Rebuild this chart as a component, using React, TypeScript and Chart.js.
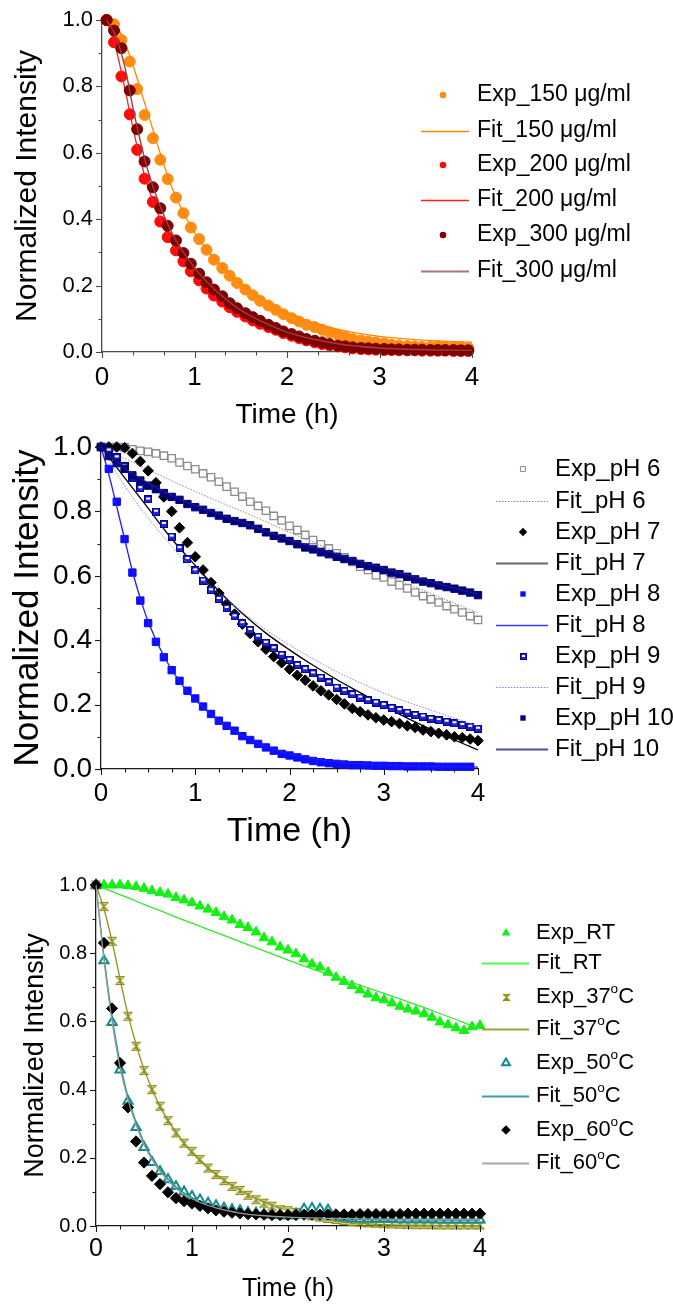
import React, { useEffect, useRef } from 'react';
import { Chart, registerables } from 'chart.js';

Chart.register(...registerables);

const FONT = '"Liberation Sans", Arial, Helvetica, sans-serif';
const W = 673;

// ---------------- Panel 1: concentration ----------------
const time1 = [0.05, 0.13, 0.21, 0.30, 0.38, 0.46, 0.55, 0.63, 0.71, 0.80, 0.88, 0.96, 1.05, 1.13, 1.21, 1.30, 1.38, 1.46, 1.55, 1.63, 1.71, 1.80, 1.88, 1.96, 2.05, 2.13, 2.21, 2.30, 2.38, 2.46, 2.55, 2.63, 2.71, 2.80, 2.88, 2.96, 3.05, 3.13, 3.21, 3.30, 3.38, 3.46, 3.55, 3.63, 3.71, 3.80, 3.88, 3.96];
const exp150 = [1.0, 0.987, 0.94, 0.875, 0.792, 0.714, 0.644, 0.579, 0.521, 0.465, 0.418, 0.375, 0.340, 0.308, 0.278, 0.253, 0.230, 0.208, 0.188, 0.171, 0.154, 0.140, 0.127, 0.114, 0.102, 0.092, 0.082, 0.075, 0.067, 0.059, 0.052, 0.045, 0.039, 0.035, 0.032, 0.029, 0.026, 0.022, 0.020, 0.018, 0.017, 0.015, 0.016, 0.017, 0.016, 0.015, 0.014, 0.012];
const exp200 = [1.0, 0.933, 0.83, 0.716, 0.609, 0.522, 0.452, 0.393, 0.346, 0.306, 0.273, 0.243, 0.216, 0.191, 0.170, 0.152, 0.135, 0.121, 0.107, 0.095, 0.085, 0.075, 0.067, 0.057, 0.049, 0.042, 0.035, 0.029, 0.024, 0.020, 0.017, 0.014, 0.011, 0.009, 0.008, 0.007, 0.006, 0.006, 0.005, 0.005, 0.005, 0.004, 0.004, 0.004, 0.004, 0.003, 0.003, 0.003];
const exp300 = [1.0, 0.968, 0.915, 0.788, 0.671, 0.574, 0.496, 0.433, 0.380, 0.336, 0.298, 0.266, 0.236, 0.210, 0.188, 0.168, 0.147, 0.132, 0.117, 0.105, 0.094, 0.082, 0.072, 0.062, 0.054, 0.047, 0.039, 0.034, 0.029, 0.024, 0.019, 0.017, 0.014, 0.012, 0.011, 0.010, 0.009, 0.008, 0.008, 0.007, 0.007, 0.007, 0.006, 0.006, 0.006, 0.006, 0.005, 0.005];
const fitTime1 = [0.05, 0.15, 0.25, 0.35, 0.5, 0.75, 1.0, 1.25, 1.5, 1.75, 2.0, 2.5, 3.0, 3.5, 4.0];
const fit150 = [1.0, 0.985, 0.93, 0.85, 0.715, 0.5, 0.36, 0.27, 0.205, 0.157, 0.118, 0.072, 0.047, 0.035, 0.03];
const fit200 = [1.0, 0.915, 0.79, 0.655, 0.495, 0.33, 0.232, 0.165, 0.117, 0.083, 0.057, 0.025, 0.01, 0.005, 0.003];
const fit300 = [1.0, 0.95, 0.855, 0.715, 0.543, 0.362, 0.254, 0.18, 0.126, 0.089, 0.06, 0.027, 0.012, 0.007, 0.005];

// ---------------- Panel 2: pH ----------------
const time5min = [0, 0.083, 0.167, 0.25, 0.333, 0.417, 0.5, 0.583, 0.667, 0.75, 0.833, 0.917, 1.0, 1.083, 1.167, 1.25, 1.333, 1.417, 1.5, 1.583, 1.667, 1.75, 1.833, 1.917, 2.0, 2.083, 2.167, 2.25, 2.333, 2.417, 2.5, 2.583, 2.667, 2.75, 2.833, 2.917, 3.0, 3.083, 3.167, 3.25, 3.333, 3.417, 3.5, 3.583, 3.667, 3.75, 3.833, 3.917, 4.0];
const expPH6 = [1.0, 1.0, 1.0, 0.999, 0.993, 0.988, 0.985, 0.980, 0.973, 0.965, 0.952, 0.941, 0.931, 0.918, 0.906, 0.892, 0.877, 0.861, 0.846, 0.830, 0.817, 0.802, 0.786, 0.772, 0.755, 0.742, 0.727, 0.711, 0.698, 0.685, 0.670, 0.657, 0.643, 0.628, 0.618, 0.602, 0.595, 0.582, 0.571, 0.561, 0.548, 0.537, 0.527, 0.517, 0.506, 0.496, 0.486, 0.475, 0.463];
const expPH7 = [1.0, 1.0, 1.0, 0.998, 0.98, 0.955, 0.926, 0.889, 0.845, 0.8, 0.749, 0.703, 0.659, 0.618, 0.579, 0.546, 0.512, 0.481, 0.45, 0.421, 0.395, 0.372, 0.349, 0.33, 0.31, 0.291, 0.276, 0.258, 0.243, 0.230, 0.216, 0.202, 0.188, 0.178, 0.168, 0.159, 0.152, 0.147, 0.141, 0.134, 0.129, 0.121, 0.116, 0.111, 0.106, 0.100, 0.097, 0.093, 0.088];
const expPH8 = [1.0, 0.932, 0.830, 0.714, 0.610, 0.523, 0.453, 0.395, 0.347, 0.307, 0.274, 0.243, 0.219, 0.194, 0.171, 0.150, 0.134, 0.119, 0.102, 0.090, 0.078, 0.067, 0.057, 0.047, 0.042, 0.036, 0.030, 0.025, 0.021, 0.018, 0.016, 0.014, 0.012, 0.012, 0.011, 0.010, 0.010, 0.009, 0.009, 0.008, 0.008, 0.008, 0.008, 0.007, 0.007, 0.007, 0.007, 0.007];
const expPH9 = [1.0, 0.989, 0.968, 0.94, 0.905, 0.872, 0.837, 0.799, 0.761, 0.722, 0.686, 0.652, 0.617, 0.585, 0.555, 0.528, 0.500, 0.474, 0.453, 0.432, 0.411, 0.392, 0.375, 0.355, 0.339, 0.323, 0.310, 0.297, 0.284, 0.269, 0.253, 0.243, 0.232, 0.222, 0.214, 0.206, 0.199, 0.190, 0.183, 0.175, 0.168, 0.163, 0.156, 0.152, 0.147, 0.142, 0.137, 0.131, 0.125];
const expPH10 = [1.0, 0.972, 0.950, 0.932, 0.912, 0.896, 0.880, 0.869, 0.857, 0.845, 0.836, 0.823, 0.813, 0.805, 0.795, 0.787, 0.777, 0.770, 0.764, 0.757, 0.746, 0.735, 0.724, 0.716, 0.708, 0.698, 0.688, 0.682, 0.673, 0.667, 0.659, 0.652, 0.646, 0.637, 0.630, 0.625, 0.618, 0.610, 0.605, 0.597, 0.589, 0.582, 0.577, 0.570, 0.565, 0.560, 0.554, 0.548, 0.540];
const fitTime2 = [0, 0.25, 0.5, 0.75, 1.0, 1.25, 1.5, 1.75, 2.0, 2.25, 2.5, 2.75, 3.0, 3.25, 3.5, 3.75, 4.0];
const fitPH6 = [1.0, 0.965, 0.93, 0.895, 0.862, 0.83, 0.80, 0.768, 0.735, 0.705, 0.672, 0.64, 0.605, 0.575, 0.545, 0.515, 0.485];
const fitPH7 = [1.0, 0.905, 0.81, 0.715, 0.632, 0.553, 0.483, 0.422, 0.37, 0.322, 0.278, 0.237, 0.196, 0.158, 0.123, 0.09, 0.059];
const fitPH9 = [1.0, 0.88, 0.78, 0.692, 0.612, 0.545, 0.487, 0.432, 0.385, 0.342, 0.302, 0.268, 0.236, 0.208, 0.183, 0.158, 0.133];
const fitPH10 = [1.0, 0.935, 0.888, 0.85, 0.818, 0.792, 0.766, 0.739, 0.712, 0.69, 0.668, 0.645, 0.624, 0.603, 0.582, 0.562, 0.543];
const fitTimePH8 = [0, 0.083, 0.167, 0.25, 0.333, 0.417, 0.5, 0.667, 0.833, 1.0, 1.25, 1.5, 1.75, 2.0, 2.5, 3.0, 3.5, 4.0];
const fitPH8 = [1.0, 0.915, 0.815, 0.715, 0.615, 0.53, 0.458, 0.35, 0.272, 0.215, 0.15, 0.103, 0.07, 0.046, 0.022, 0.012, 0.008, 0.006];

// ---------------- Panel 3: temperature ----------------
const expRT = [1.0, 1.0, 1.0, 1.0, 0.998, 0.995, 0.99, 0.983, 0.978, 0.973, 0.963, 0.956, 0.948, 0.938, 0.929, 0.919, 0.907, 0.897, 0.884, 0.875, 0.862, 0.845, 0.833, 0.818, 0.809, 0.798, 0.783, 0.768, 0.759, 0.744, 0.729, 0.717, 0.705, 0.692, 0.680, 0.669, 0.663, 0.654, 0.644, 0.636, 0.630, 0.622, 0.612, 0.598, 0.590, 0.581, 0.573, 0.584, 0.588];
const exp37 = [1.0, 0.937, 0.835, 0.72, 0.615, 0.527, 0.456, 0.4, 0.351, 0.309, 0.273, 0.243, 0.219, 0.195, 0.17, 0.151, 0.133, 0.116, 0.104, 0.09, 0.077, 0.067, 0.058, 0.048, 0.045, 0.040, 0.035, 0.030, 0.026, 0.022, 0.019, 0.016, 0.013, 0.011, 0.009, 0.008, 0.007, 0.006, 0.005, 0.005, 0.004, 0.004, 0.004, 0.003, 0.003, 0.003, 0.003, 0.003, 0.003];
const exp50 = [1.0, 0.778, 0.597, 0.458, 0.366, 0.289, 0.231, 0.187, 0.160, 0.136, 0.116, 0.100, 0.087, 0.077, 0.067, 0.060, 0.053, 0.048, 0.045, 0.040, 0.038, 0.035, 0.033, 0.031, 0.030, 0.035, 0.05, 0.052, 0.05, 0.047, 0.03, 0.025, 0.022, 0.02, 0.02, 0.02, 0.02, 0.02, 0.019, 0.019, 0.019, 0.019, 0.019, 0.018, 0.018, 0.018, 0.018, 0.018, 0.018];
const exp60 = [1.0, 0.83, 0.638, 0.478, 0.348, 0.248, 0.186, 0.147, 0.123, 0.099, 0.082, 0.073, 0.066, 0.059, 0.052, 0.046, 0.042, 0.039, 0.037, 0.035, 0.034, 0.033, 0.032, 0.032, 0.032, 0.032, 0.033, 0.033, 0.033, 0.034, 0.034, 0.034, 0.034, 0.035, 0.035, 0.035, 0.035, 0.035, 0.035, 0.036, 0.036, 0.036, 0.036, 0.036, 0.036, 0.036, 0.036, 0.036, 0.036];
const fitTime3 = [0, 0.083, 0.167, 0.25, 0.333, 0.5, 0.667, 0.833, 1.0, 1.25, 1.5, 1.75, 2.0, 2.5, 3.0, 3.5, 4.0];
const fitRT = [1.0, 0.99, 0.981, 0.972, 0.963, 0.943, 0.925, 0.906, 0.888, 0.861, 0.834, 0.807, 0.78, 0.73, 0.682, 0.632, 0.578];
const fit37 = [1.0, 0.93, 0.835, 0.725, 0.62, 0.46, 0.35, 0.275, 0.215, 0.152, 0.105, 0.07, 0.045, 0.015, 0.004, 0.002, 0.001];
const fit50 = [1.0, 0.79, 0.615, 0.48, 0.38, 0.245, 0.165, 0.115, 0.083, 0.055, 0.04, 0.03, 0.025, 0.02, 0.018, 0.017, 0.017];
const fit60 = [1.0, 0.78, 0.6, 0.465, 0.37, 0.238, 0.16, 0.11, 0.08, 0.053, 0.038, 0.03, 0.026, 0.022, 0.02, 0.019, 0.019];

const xy = (xs: number[], ys: number[]) => ys.map((y, i) => ({ x: xs[i], y }));

// ---------------- markers ----------------
function halfSquareMarker(size: number) {
  const c = document.createElement('canvas');
  c.width = size; c.height = size;
  const g = c.getContext('2d')!;
  g.fillStyle = '#00008a'; g.fillRect(0, 0, size, size);
  g.fillStyle = '#2424c8'; g.fillRect(1, 1, size - 2, size - 2);
  g.fillStyle = '#ffffff'; g.fillRect(2, 2, size - 4, Math.max(2, Math.round(size * 0.25)));
  return c;
}
function hourglassMarker(size: number, color: string) {
  const c = document.createElement('canvas');
  c.width = size; c.height = size;
  const g = c.getContext('2d')!;
  g.strokeStyle = color; g.lineWidth = 1.2;
  const a = 1, b = size - 1, m = size / 2;
  g.beginPath();
  g.moveTo(a, a + 0.5); g.lineTo(b, a + 0.5);
  g.moveTo(a, b - 0.5); g.lineTo(b, b - 0.5);
  g.moveTo(a, a); g.lineTo(b, b);
  g.moveTo(b, a); g.lineTo(a, b);
  g.moveTo(m, a); g.lineTo(m, b);
  g.stroke();
  return c;
}

function drawMarker(ctx: CanvasRenderingContext2D, m: any, x: number, y: number) {
  if (m.image) {
    const im = m.image;
    ctx.drawImage(im, Math.round(x - im.width / 2), Math.round(y - im.height / 2));
    return;
  }
  const r = m.r;
  ctx.beginPath();
  if (m.style === 'circle') ctx.arc(x, y, r, 0, Math.PI * 2);
  else if (m.style === 'rect') { const s = r * Math.SQRT1_2; ctx.rect(x - s, y - s, 2 * s, 2 * s); }
  else if (m.style === 'rectRot') { ctx.moveTo(x - r, y); ctx.lineTo(x, y - r); ctx.lineTo(x + r, y); ctx.lineTo(x, y + r); ctx.closePath(); }
  else if (m.style === 'triangle') { ctx.moveTo(x, y - r); ctx.lineTo(x + 0.866 * r, y + 0.5 * r); ctx.lineTo(x - 0.866 * r, y + 0.5 * r); ctx.closePath(); }
  if (m.fill) { ctx.fillStyle = m.fill; ctx.fill(); }
  if (m.stroke) { ctx.strokeStyle = m.stroke; ctx.lineWidth = m.bw || 1; ctx.stroke(); }
}

function drawRich(ctx: CanvasRenderingContext2D, text: string, x: number, y: number, size: number) {
  const parts = text.split('^');
  let cx = x;
  parts.forEach((p, i) => {
    let seg = p;
    if (i > 0) {
      const sup = p[0];
      seg = p.slice(1);
      ctx.font = `${size * 0.62}px ${FONT}`;
      ctx.fillText(sup, cx, y - size * 0.36);
      cx += ctx.measureText(sup).width;
    }
    ctx.font = `${size}px ${FONT}`;
    ctx.fillText(seg, cx, y);
    cx += ctx.measureText(seg).width;
  });
}

function expSeries(label: string, data: any[], style: any, r: number, fill: string, stroke: string, bw: number, legend: any) {
  return {
    ds: {
      label, data, showLine: false, pointStyle: style, pointRadius: r,
      pointBackgroundColor: fill, pointBorderColor: stroke, pointBorderWidth: bw,
      backgroundColor: fill, borderColor: stroke,
    },
    legend: { kind: 'point', label, ...legend },
  };
}
function fitSeries(label: string, data: any[], color: string, width: number, dash: number[], legend?: any) {
  return {
    ds: {
      label, data, showLine: true, pointRadius: 0, borderColor: color, borderWidth: width,
      borderDash: dash, cubicInterpolationMode: 'monotone', fill: false,
    },
    legend: { kind: 'line', label, color, width, dash, ...(legend || {}) },
  };
}

function panel1() {
  return {
    top: 0, height: 445, area: { left: 102, top: 20, right: 472, bottom: 352 },
    yTickSize: 22, xTickSize: 26, yTitleSize: 30, xTitleSize: 28, yTitlePad: 12.5, xTitlePad: 16,
    xTickPad: 12.5, yTickPad: 9, xMinor: 1 / 3, axisColor: '#4a4a4a',
    legend: { rows: [95, 131, 165, 200, 235, 271], markerX: 443, x1: 421, x2: 469, textX: 477, size: 23 },
    series: [
      expSeries('Exp_150 μg/ml', xy(time1, exp150), 'circle', 5.5, '#ff8c14', '#ff8c14', 1, { style: 'circle', r: 3.3, fill: '#ff8c14' }),
      fitSeries('Fit_150 μg/ml', xy(fitTime1, fit150), '#ff8800', 1.3, []),
      expSeries('Exp_200 μg/ml', xy(time1, exp200), 'circle', 5.5, '#ff0a0a', '#ff0a0a', 1, { style: 'circle', r: 3.3, fill: '#ff0a0a' }),
      fitSeries('Fit_200 μg/ml', xy(fitTime1, fit200), '#ff2020', 1.3, []),
      expSeries('Exp_300 μg/ml', xy(time1, exp300), 'circle', 5.5, '#7f0000', '#7f0000', 1, { style: 'circle', r: 3.3, fill: '#7f0000' }),
      fitSeries('Fit_300 μg/ml', xy(fitTime1, fit300), '#9a4040', 1.4, [], { color: '#b07272', width: 1.8 }),
    ],
  };
}

function panel2() {
  const half = halfSquareMarker(8);
  const halfLegend = halfSquareMarker(7);
  return {
    top: 400, height: 470, area: { left: 101, top: 47, right: 478, bottom: 369 },
    yTickSize: 28, xTickSize: 26, yTitleSize: 35, xTitleSize: 34, yTitlePad: 11, xTitlePad: 21,
    xTickPad: 12, yTickPad: 9, xMinor: 0.25, axisColor: '#1a1a1a',
    legend: { rows: [469, 501, 532, 563, 594, 625, 656, 687, 718, 749], markerX: 523, x1: 496, x2: 548, textX: 555, size: 24 },
    series: [
      expSeries('Exp_pH 6', xy(time5min, expPH6), 'rect', 5.2, 'rgba(255,255,255,0)', '#8c8c8c', 1.3, { style: 'rect', r: 3.6, fill: '#ffffff', stroke: '#8c8c8c', bw: 1 }),
      fitSeries('Fit_pH 6', xy(fitTime2, fitPH6), '#8a8a8a', 1, [1.5, 1.5]),
      expSeries('Exp_pH 7', xy(time5min, expPH7), 'rectRot', 5.3, '#000000', '#000000', 1, { style: 'rectRot', r: 4.2, fill: '#000000' }),
      fitSeries('Fit_pH 7', xy(fitTime2, fitPH7), '#000000', 1.3, [], { color: '#6a6a6a', width: 2 }),
      expSeries('Exp_pH 8', xy(time5min, expPH8), 'rect', 5.2, '#0c0cff', '#0c0cff', 1, { style: 'rect', r: 3.8, fill: '#0c0cff' }),
      fitSeries('Fit_pH 8', xy(fitTimePH8, fitPH8), '#1a1aff', 1.3, [], { color: '#3a3aff', width: 1.6 }),
      { ds: { label: 'Exp_pH 9', data: xy(time5min, expPH9), showLine: false, pointStyle: half, pointRadius: 5, backgroundColor: '#2424c8', borderColor: '#00008a' },
        legend: { kind: 'point', label: 'Exp_pH 9', image: halfLegend } },
      fitSeries('Fit_pH 9', xy(fitTime2, fitPH9), '#8080ff', 1, [1.5, 1.5]),
      expSeries('Exp_pH 10', xy(time5min, expPH10), 'rect', 5.2, '#00007f', '#00007f', 1, { style: 'rect', r: 3.8, fill: '#00007f' }),
      fitSeries('Fit_pH 10', xy(fitTime2, fitPH10), '#1a1a8a', 1.3, [], { color: '#4a4aa8', width: 1.8 }),
    ],
  };
}

function panel3() {
  const olive = '#8f8f14';
  const hg = hourglassMarker(11, olive);
  const hgLegend = hourglassMarker(9, olive);
  return {
    top: 840, height: 466, area: { left: 96, top: 45, right: 480, bottom: 386 },
    yTickSize: 20, xTickSize: 25, yTitleSize: 27, xTitleSize: 25, yTitlePad: 22, xTitlePad: 4.5,
    xTickPad: 10.5, yTickPad: 9, xMinor: 0.25, axisColor: '#1a1a1a',
    legend: { rows: [933, 963, 997, 1029, 1063, 1096, 1130, 1163], markerX: 506, x1: 482, x2: 529, textX: 536, size: 22 },
    series: [
      expSeries('Exp_RT', xy(time5min, expRT), 'triangle', 5.8, '#14f014', '#14f014', 1, { style: 'triangle', r: 5, fill: '#14f014' }),
      fitSeries('Fit_RT', xy(fitTime3, fitRT), '#2ee82e', 1.3, [], { color: '#5cf05c', width: 2 }),
      { ds: { label: 'Exp_37^oC', data: xy(time5min, exp37), showLine: false, pointStyle: hg, pointRadius: 5, backgroundColor: olive, borderColor: olive },
        legend: { kind: 'point', label: 'Exp_37^oC', image: hgLegend } },
      fitSeries('Fit_37^oC', xy(fitTime3, fit37), '#8f8f1e', 1.3, [], { color: '#a0a040', width: 2 }),
      expSeries('Exp_50^oC', xy(time5min, exp50), 'triangle', 5.3, '#ffffff', '#168a8a', 2, { style: 'triangle', r: 4.6, fill: '#ffffff', stroke: '#168a8a', bw: 2 }),
      fitSeries('Fit_50^oC', xy(fitTime3, fit50), '#1a9494', 1.3, [], { color: '#34a0a0', width: 2 }),
      expSeries('Exp_60^oC', xy(time5min, exp60), 'rectRot', 5.6, '#000000', '#000000', 1, { style: 'rectRot', r: 4.8, fill: '#000000' }),
      fitSeries('Fit_60^oC', xy(fitTime3, fit60), '#9a9a9a', 1.3, [], { color: '#a8a8a8', width: 2 }),
    ],
  };
}

function buildChart(canvas: HTMLCanvasElement, p: any) {
  const area = p.area;
  const yMinor = 0.1;
  const ticksPlugin = {
    id: 'axisTicks',
    afterDraw(chart: any) {
      const { ctx, chartArea: a, scales } = chart;
      const sx = scales.x, sy = scales.y;
      ctx.save();
      ctx.strokeStyle = p.axisColor;
      ctx.lineWidth = 1.1;
      const nx = Math.round(4 / p.xMinor);
      for (let i = 0; i <= nx; i++) {
        const v = i * p.xMinor;
        const major = Math.abs(v - Math.round(v)) < 1e-6;
        const px = Math.round(sx.getPixelForValue(v)) + 0.5;
        ctx.beginPath();
        ctx.moveTo(px, a.bottom);
        ctx.lineTo(px, a.bottom + (major ? 6 : 3.5));
        ctx.stroke();
      }
      for (let i = 0; i <= 10; i++) {
        const v = i * yMinor;
        const major = i % 2 === 0;
        const py = Math.round(sy.getPixelForValue(v)) + 0.5;
        ctx.beginPath();
        ctx.moveTo(a.left, py);
        ctx.lineTo(a.left - (major ? 6 : 3.5), py);
        ctx.stroke();
      }
      ctx.restore();
    },
  };
  const legendPlugin = {
    id: 'sideLegend',
    afterDraw(chart: any) {
      const ctx = chart.ctx;
      const L = p.legend;
      ctx.save();
      p.series.forEach((s: any, i: number) => {
        const it = s.legend;
        const y = L.rows[i] - p.top;
        if (it.kind === 'line') {
          ctx.beginPath();
          ctx.strokeStyle = it.color;
          ctx.lineWidth = it.width;
          ctx.setLineDash(it.dash || []);
          ctx.moveTo(L.x1, y + 0.5);
          ctx.lineTo(L.x2, y + 0.5);
          ctx.stroke();
          ctx.setLineDash([]);
        } else {
          drawMarker(ctx, it, L.markerX, y);
        }
        ctx.fillStyle = '#000000';
        ctx.textBaseline = 'middle';
        ctx.textAlign = 'left';
        drawRich(ctx, it.label, L.textX, y, L.size);
      });
      ctx.restore();
    },
  };
  const n = p.series.length;
  return new Chart(canvas, {
    type: 'scatter',
    data: {
      datasets: p.series.map((s: any, i: number) => ({ ...s.ds, order: n - i, clip: false })),
    },
    options: {
      animation: false,
      responsive: false,
      events: [],
      layout: { padding: { left: 0, top: area.top, right: W - area.right, bottom: 0 } },
      plugins: { legend: { display: false }, tooltip: { enabled: false } },
      scales: {
        x: {
          type: 'linear', position: 'bottom', min: 0, max: 4,
          ticks: {
            stepSize: 1, autoSkip: false, maxRotation: 0, padding: p.xTickPad, color: '#000',
            font: { family: FONT, size: p.xTickSize, lineHeight: 1 },
            callback: (v: any) => String(v),
          },
          grid: { display: false, drawTicks: false },
          border: { display: true, color: p.axisColor, width: 1.3 },
          title: {
            display: true, text: 'Time (h)', color: '#000',
            font: { family: FONT, size: p.xTitleSize, lineHeight: 1 },
            padding: { top: 0, bottom: p.xTitlePad },
          },
          afterFit: (s: any) => { s.height = p.height - area.bottom; },
        },
        y: {
          type: 'linear', position: 'left', min: 0, max: 1,
          ticks: {
            stepSize: 0.2, autoSkip: false, padding: p.yTickPad, color: '#000',
            font: { family: FONT, size: p.yTickSize, lineHeight: 1 },
            callback: (v: any) => Number(v).toFixed(1),
          },
          grid: { display: false, drawTicks: false },
          border: { display: true, color: p.axisColor, width: 1.3 },
          title: {
            display: true, text: 'Normalized Intensity', color: '#000',
            font: { family: FONT, size: p.yTitleSize, lineHeight: 1 },
            padding: { top: p.yTitlePad, bottom: 0 },
          },
          afterFit: (s: any) => { s.width = area.left; },
        },
      },
    } as any,
    plugins: [ticksPlugin, legendPlugin],
  } as any);
}

function Panel({ make, top, height }: { make: () => any; top: number; height: number }) {
  const ref = useRef<HTMLCanvasElement>(null);
  useEffect(() => {
    const chart = buildChart(ref.current!, make());
    return () => chart.destroy();
  }, []);
  return (
    <canvas
      ref={ref}
      width={W}
      height={height}
      style={{ position: 'absolute', left: 0, top, width: W, height, display: 'block' }}
    />
  );
}

export default function App() {
  return (
    <div style={{ position: 'absolute', left: 0, top: 0, width: W, height: 1306, background: '#ffffff', overflow: 'hidden' }}>
      <Panel make={panel1} top={0} height={445} />
      <Panel make={panel2} top={400} height={470} />
      <Panel make={panel3} top={840} height={466} />
    </div>
  );
}
